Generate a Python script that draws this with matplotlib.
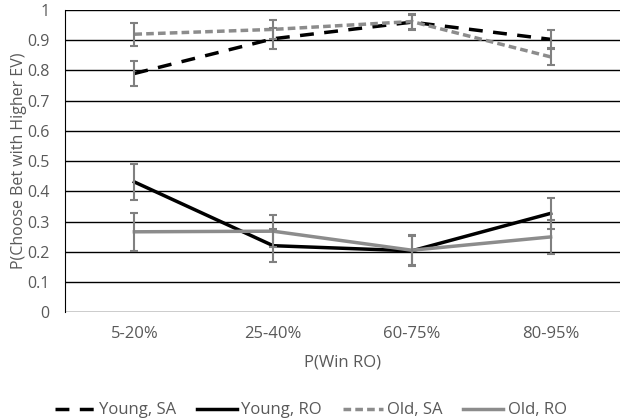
import numpy as np
import matplotlib.pyplot as plt

# data
cats = ['5-20%', '25-40%', '60-75%', '80-95%']
young_sa = [0.79, 0.905, 0.96, 0.903]
young_sa_err = [0.04, 0.035, 0.025, 0.03]
young_ro = [0.431, 0.22, 0.203, 0.327]
young_ro_err = [0.06, 0.055, 0.05, 0.052]
old_sa = [0.92, 0.936, 0.962, 0.845]
old_sa_err = [0.038, 0.032, 0.025, 0.027]
old_ro = [0.266, 0.268, 0.205, 0.249]
old_ro_err = [0.062, 0.052, 0.05, 0.055]

plt.rcParams['font.family'] = ['Open Sans', 'DejaVu Sans']

fig = plt.figure(figsize=(6.25, 4.19), dpi=100)
ax = fig.add_axes([0.104, 0.255, 0.888, 0.721])

x = np.arange(len(cats))
gray = '#8c8c8c'
ebar = '#808080'
fs = 12
txt = '#595959'

series = [
    (young_sa, young_sa_err, 'black', (0, (4, 3)), 'Young, SA'),
    (young_ro, young_ro_err, 'black', '-', 'Young, RO'),
    (old_sa, old_sa_err, gray, (0, (2.2, 1.2)), 'Old, SA'),
    (old_ro, old_ro_err, gray, '-', 'Old, RO'),
]
for vals, err, col, ls, lab in series:
    ax.plot(x, vals, color=col, linestyle=ls, linewidth=2.5, label=lab, zorder=3)
    ax.errorbar(x, vals, yerr=err, fmt='none', ecolor=ebar, elinewidth=1.5,
                capsize=3, capthick=1.5, zorder=4)

ax.set_xlim(-0.5, 3.5)
ax.set_ylim(0, 1)
ax.set_yticks(np.arange(0, 1.01, 0.1))
ax.set_yticklabels(['0', '0.1', '0.2', '0.3', '0.4', '0.5', '0.6', '0.7', '0.8', '0.9', '1'])
ax.set_xticks(x)
ax.set_xticklabels(cats)
ax.yaxis.grid(True, color='black', linewidth=1)
ax.set_axisbelow(True)
for s in ['top', 'right', 'bottom']:
    ax.spines[s].set_visible(False)
ax.spines['left'].set_color('black')
ax.tick_params(axis='y', length=0, labelsize=11.5, colors=txt, pad=11)
ax.tick_params(axis='x', length=0, labelsize=fs, colors=txt, pad=10)
ax.set_xlabel('P(Win RO)', fontsize=fs, color=txt, labelpad=9)
ax.set_ylabel('P(Choose Bet with Higher EV)', fontsize=11.5, color=txt, labelpad=0)

leg = ax.legend(loc='center', bbox_to_anchor=(0.443, -0.325), ncol=4, frameon=False,
                fontsize=fs, handlelength=2.4, handletextpad=0.25, columnspacing=1.25)
for t in leg.get_texts():
    t.set_color(txt)

fig.savefig('out.png', dpi=100)
